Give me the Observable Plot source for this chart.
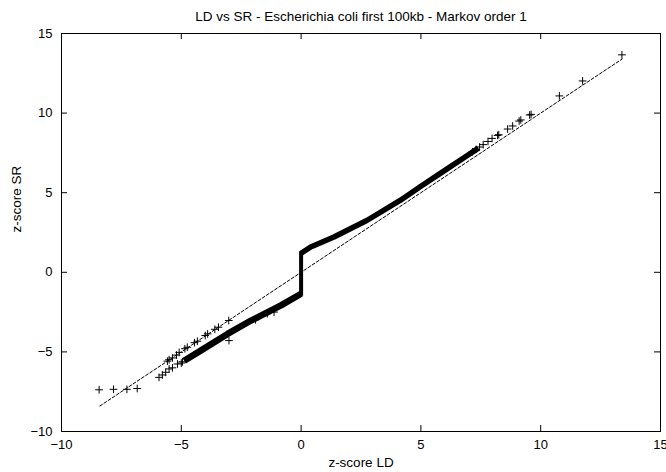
<!DOCTYPE html>
<html>
<head>
<meta charset="utf-8">
<script src="https://cdn.jsdelivr.net/npm/d3@7"></script>
<script src="https://cdn.jsdelivr.net/npm/@observablehq/plot@0.6"></script>
<style>
  html, body { margin: 0; padding: 0; background: #fff; }
  #chart svg { display: block; }
</style>
</head>
<body>
<div id="chart"></div>
<script>
const title = "LD vs SR - Escherichia coli first 100kb - Markov order 1";
const xLabel = "z-score LD";
const yLabel = "z-score SR";
const xTicks = [-10, -5, 0, 5, 10, 15];
const yTicks = [-10, -5, 0, 5, 10, 15];

// Dense part of the cloud (thousands of overlapping "+" markers), centre line
const bandLowerLD = [-4.88, -4.19, -3.07, -2.09, -0.84, 0];
const bandLowerSR = [-5.55, -4.92, -3.87, -3.03, -2.08, -1.35];
const bandZeroLD = [0, 0];
const bandZeroSR = [-1.35, 1.2];
const bandUpperLD = [0, 0.4, 1.37, 2.76, 4.15, 5.0, 6.0, 7.0, 7.4];
const bandUpperSR = [1.2, 1.59, 2.22, 3.27, 4.53, 5.4, 6.4, 7.4, 7.8];

// Individual points
const pointLD = [
  13.39, 11.75, 10.78, 9.6, 9.54, 9.17, 9.1, 8.83, 8.62, 8.25, 8.2, 7.97, 7.8, 7.6, 7.45, 7.3, 7.15,
  -3.02, -3.45, -3.6, -3.9, -4.0, -4.33, -4.45, -4.75, -4.85, -5.09, -5.2, -5.37, -5.51, -5.58,
  -4.95, -5.0, -5.16, -5.37, -5.51, -5.65, -5.79, -5.93,
  -3.01, -1.9, -1.41, -1.13,
  -8.43, -7.83, -7.27, -6.84
];
const pointSR = [
  13.66, 12.02, 11.08, 9.92, 9.88, 9.57, 9.5, 9.19, 9.0, 8.64, 8.6, 8.41, 8.22, 8.02, 7.87, 7.72, 7.57,
  -3.03, -3.45, -3.58, -3.87, -3.97, -4.33, -4.42, -4.71, -4.8, -5.03, -5.2, -5.38, -5.49, -5.58,
  -5.62, -5.7, -5.76, -6.0, -6.07, -6.28, -6.45, -6.6,
  -4.29, -2.98, -2.6, -2.5,
  -7.38, -7.35, -7.35, -7.3
];

// Fitted (dashed) line
const fitLD = [-8.4, 13.4];
const fitSR = [-8.4, 13.4];

const zip = (xs, ys) => xs.map((x, i) => ({x, y: ys[i]}));
const bandLower = zip(bandLowerLD, bandLowerSR);
const bandZero = zip(bandZeroLD, bandZeroSR);
const bandUpper = zip(bandUpperLD, bandUpperSR);
const points = zip(pointLD, pointSR);
const fit = zip(fitLD, fitSR);

const font = "'Liberation Sans', Arial, Helvetica, sans-serif";
const W = 666, H = 472, mT = 33, mB = 41, mL = 61, mR = 6;
const fw = W - mL - mR, fh = H - mT - mB, tk = 6;

const chart = Plot.plot({
  width: W,
  height: H,
  marginTop: mT,
  marginBottom: mB,
  marginLeft: mL,
  marginRight: mR,
  style: {fontFamily: font, fontSize: "13px", color: "#000", background: "#fff", overflow: "visible"},
  x: {domain: [-10, 15]},
  y: {domain: [-10, 15]},
  marks: [
    Plot.line(fit, {x: "x", y: "y", stroke: "#000", strokeWidth: 1, strokeDasharray: "3,2"}),
    Plot.line(bandLower, {x: "x", y: "y", stroke: "#000", strokeWidth: 6.5, strokeLinecap: "butt"}),
    Plot.line(bandZero, {x: "x", y: "y", stroke: "#000", strokeWidth: 4, strokeLinecap: "square"}),
    Plot.line(bandUpper, {x: "x", y: "y", stroke: "#000", strokeWidth: 5.5, strokeLinecap: "butt", strokeLinejoin: "round"}),
    Plot.dot(points, {x: "x", y: "y", symbol: "plus", r: 2.6, stroke: "#000", strokeWidth: 1}),
    Plot.frame({stroke: "#000", strokeWidth: 1}),
    // inward ticks on all four sides
    Plot.tickX(xTicks, {x: d => d, insetTop: fh - tk, stroke: "#000", strokeWidth: 1}),
    Plot.tickX(xTicks, {x: d => d, insetBottom: fh - tk, stroke: "#000", strokeWidth: 1}),
    Plot.tickY(yTicks, {y: d => d, insetRight: fw - tk, stroke: "#000", strokeWidth: 1}),
    Plot.tickY(yTicks, {y: d => d, insetLeft: fw - tk, stroke: "#000", strokeWidth: 1}),
    Plot.axisX(xTicks, {anchor: "bottom", tickSize: 0, tickPadding: 8, label: null, fontSize: 13}),
    Plot.axisY(yTicks, {anchor: "left", tickSize: 0, tickPadding: 9, label: null, fontSize: 13}),
    Plot.text([title], {frameAnchor: "top", dy: -17, lineAnchor: "middle", fontSize: 13.5}),
    Plot.text([xLabel], {frameAnchor: "bottom", dy: 31, lineAnchor: "middle", fontSize: 13.5}),
    Plot.text([yLabel], {frameAnchor: "left", dx: -45, rotate: -90, lineAnchor: "middle", fontSize: 13.5})
  ]
});
document.getElementById("chart").appendChild(chart);
</script>
</body>
</html>
